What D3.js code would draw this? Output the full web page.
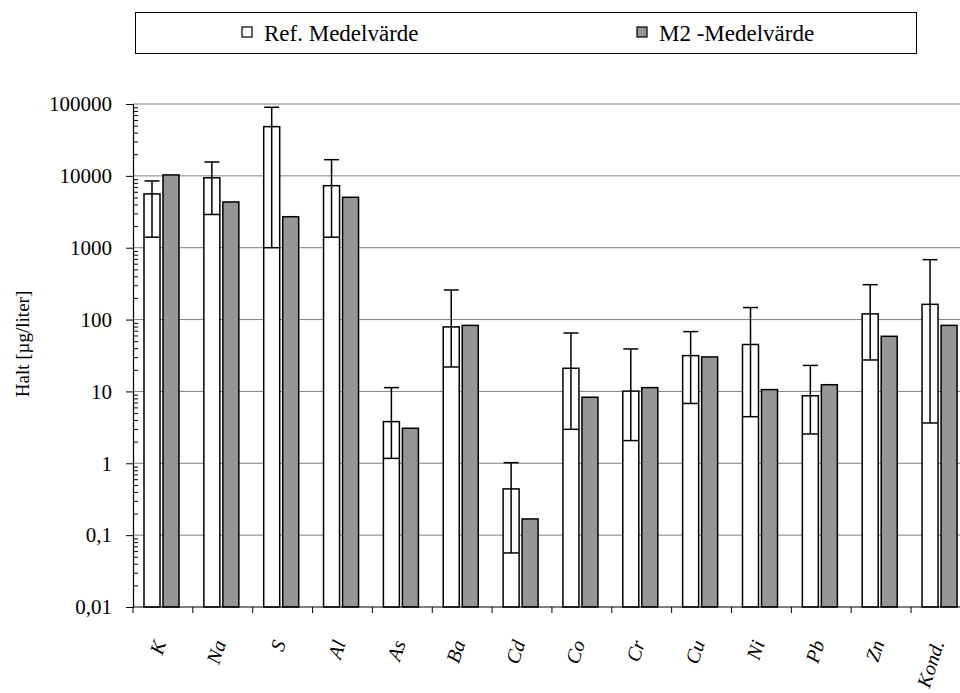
<!DOCTYPE html>
<html>
<head>
<meta charset="utf-8">
<script src="https://cdn.jsdelivr.net/npm/d3@7"></script>
<style>
  html, body { margin: 0; padding: 0; background: #fff; }
  svg { display: block; }
  text { font-family: "Liberation Serif", "Times New Roman", serif; fill: #000; }
</style>
</head>
<body>
<svg id="chart" width="960" height="693" font-family="Liberation Serif, serif"></svg>
<script>
// ---- data ----
const categories = ["K", "Na", "S", "Al", "As", "Ba", "Cd", "Co", "Cr", "Cu", "Ni", "Pb", "Zn", "Kond."];
const refMean  = [5600, 9400, 48400, 7300, 3.8, 79, 0.44, 21, 10.1, 31.5, 45, 8.7, 120, 163];
const refUpper = [8500, 15600, 90000, 16800, 11.3, 258, 1.02, 65, 39, 68, 147, 23, 306, 682];
const refLower = [1400, 2900, 1000, 1400, 1.17, 21.9, 0.0565, 2.97, 2.07, 6.8, 4.45, 2.56, 27.4, 3.64];
const m2Mean   = [10300, 4330, 2700, 5030, 3.07, 83, 0.168, 8.3, 11.3, 30.2, 10.6, 12.4, 58.5, 83];
const yTicks = [0.01, 0.1, 1, 10, 100, 1000, 10000, 100000];
const yTickLabels = ["0,01", "0,1", "1", "10", "100", "1000", "10000", "100000"];
const legendLabels = ["Ref. Medelvärde", "M2 -Medelvärde"];
const yTitle = "Halt [\u00B5g/liter]";

// ---- layout ----
const svg = d3.select("#chart");
const plotLeft = 133, plotTop = 104, plotBottom = 607;
const bandW = 59.85;
const plotRight = plotLeft + bandW * categories.length;

const x = d3.scaleBand().domain(categories).range([plotLeft, plotRight]).padding(0);
const y = d3.scaleLog().domain([0.01, 100000]).range([plotBottom, plotTop]);

svg.append("defs").append("clipPath").attr("id", "clip")
  .append("rect").attr("x", 0).attr("y", 0).attr("width", 960).attr("height", 693);
const g = svg.append("g").attr("clip-path", "url(#clip)");

// gridlines
g.append("g").selectAll("line").data(yTicks.slice(1)).join("line")
  .attr("x1", plotLeft).attr("x2", plotRight)
  .attr("y1", d => y(d)).attr("y2", d => y(d))
  .attr("stroke", "#808080").attr("stroke-width", 1);

// bars
const barW = 16;
const rows = categories.map((c, i) => ({c, ref: refMean[i], up: refUpper[i], lo: refLower[i], m2: m2Mean[i]}));

g.append("g").selectAll("rect").data(rows).join("rect")
  .attr("x", d => x(d.c) + 11).attr("width", barW)
  .attr("y", d => y(d.ref)).attr("height", d => plotBottom - y(d.ref))
  .attr("fill", "#ffffff").attr("stroke", "#000").attr("stroke-width", 1.5);

g.append("g").selectAll("rect").data(rows).join("rect")
  .attr("x", d => x(d.c) + 30).attr("width", barW)
  .attr("y", d => y(d.m2)).attr("height", d => plotBottom - y(d.m2))
  .attr("fill", "#969696").attr("stroke", "#000").attr("stroke-width", 1.5);

// error bars
const eb = g.append("g").attr("stroke", "#000").attr("stroke-width", 1.5);
rows.forEach(d => {
  const cx = x(d.c) + 11 + barW / 2;
  eb.append("line").attr("x1", cx).attr("x2", cx).attr("y1", y(d.lo)).attr("y2", y(d.up));
  eb.append("line").attr("x1", cx - 7.5).attr("x2", cx + 7.5).attr("y1", y(d.up)).attr("y2", y(d.up));
  eb.append("line").attr("x1", cx - 7.5).attr("x2", cx + 7.5).attr("y1", y(d.lo)).attr("y2", y(d.lo));
});

// y axis (major ticks to the left)
const yAxis = d3.axisLeft(y).tickValues(yTicks).tickSize(7).tickPadding(14)
  .tickFormat((d, i) => yTickLabels[i]);
const ya = svg.append("g").attr("transform", `translate(${plotLeft},0)`).call(yAxis)
  .attr("font-family", "Liberation Serif, serif").attr("font-size", 21);
ya.select(".domain").attr("stroke", "#000").attr("stroke-width", 1.2);
ya.selectAll(".tick line").attr("stroke", "#000").attr("stroke-width", 1);
ya.selectAll(".tick text").style("font-family", "'Liberation Serif', serif").style("font-size", "21px").attr("fill", "#000");

// minor ticks to the right
const minor = [];
for (let e = -2; e < 5; e++) for (let m = 2; m <= 9; m++) minor.push(m * Math.pow(10, e));
const yMinor = d3.axisRight(y).tickValues(minor).tickSize(5).tickFormat("");
const ym = svg.append("g").attr("transform", `translate(${plotLeft},0)`).call(yMinor);
ym.select(".domain").remove();
ym.selectAll(".tick line").attr("stroke", "#000").attr("stroke-width", 1);

// x axis
const xa = svg.append("g").attr("clip-path", "url(#clip)");
xa.append("line").attr("x1", plotLeft).attr("x2", plotRight).attr("y1", plotBottom).attr("y2", plotBottom)
  .attr("stroke", "#000").attr("stroke-width", 1.2);
xa.selectAll("line.xt").data(categories).join("line").attr("class", "xt")
  .attr("x1", d => x(d)).attr("x2", d => x(d))
  .attr("y1", plotBottom).attr("y2", plotBottom + 6)
  .attr("stroke", "#000").attr("stroke-width", 1);

xa.selectAll("text.xl").data(categories).join("text").attr("class", "xl")
  .attr("transform", d => `translate(${x(d) + x.bandwidth() / 2 + 3.5},${plotBottom + 36}) rotate(-72)`)
  .attr("text-anchor", "end")
  .style("font-style", "italic").style("font-size", "20px")
  .text(d => d);

// y title
svg.append("text")
  .attr("transform", "translate(29,344) rotate(-90)")
  .attr("text-anchor", "middle")
  .style("font-size", "19px")
  .text(yTitle);

// legend
const lg = svg.append("g");
lg.append("rect").attr("x", 135.5).attr("y", 12.5).attr("width", 781).attr("height", 41)
  .attr("fill", "#fff").attr("stroke", "#000").attr("stroke-width", 1);
const legX = [242, 637];
const legFill = ["#ffffff", "#969696"];
legendLabels.forEach((t, i) => {
  lg.append("rect").attr("x", legX[i]).attr("y", 27).attr("width", 10).attr("height", 10)
    .attr("fill", legFill[i]).attr("stroke", "#000").attr("stroke-width", 1.2);
  lg.append("text").attr("x", legX[i] + 22).attr("y", 41)
    .style("font-size", "23px").text(t);
});
</script>
</body>
</html>
